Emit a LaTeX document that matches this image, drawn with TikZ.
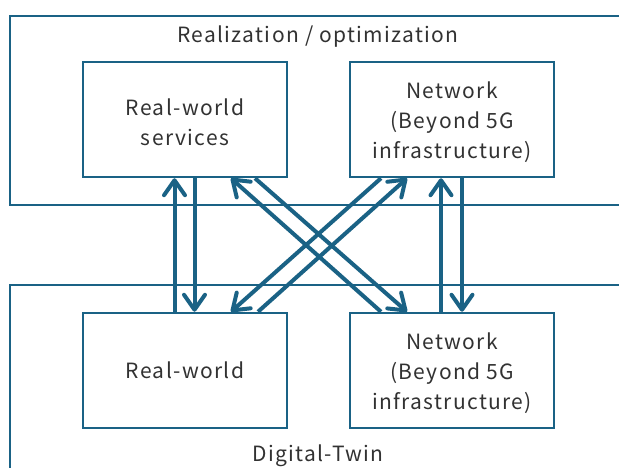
\documentclass[tikz,border=0pt]{standalone}
\usepackage{fontspec}
\setmainfont{Noto Sans CJK JP}[LetterSpace=6.5]
\usetikzlibrary{arrows.meta,calc}
\definecolor{teal1}{RGB}{26,98,133}
\definecolor{txt}{RGB}{50,50,50}
\newcommand\lowerln[1]{\raisebox{-2.5pt}[\height][\depth]{#1}}
\begin{document}
\begin{tikzpicture}[x=1pt,y=-1pt,
  frame/.style={draw=teal1,line width=2pt},
  box/.style={draw=teal1,line width=2.5pt,fill=white,minimum width=204pt,minimum height=115pt,inner sep=0pt,align=center,text=txt,font=\fontsize{21}{30}\selectfont},
  lbl/.style={text=txt,font=\fontsize{21}{30}\selectfont,inner sep=0pt,anchor=base},
  arr/.style={draw=teal1,line width=4pt,-{Straight Barb[length=15pt,width=21pt,line width=4pt,round]}}]
\useasboundingbox (0,0) rectangle (619,468);
\clip (0,0) rectangle (619,468);
\fill[white] (0,0) rectangle (619,468);
\draw[frame] (10,16) rectangle (650,205);
\draw[frame] (10,285) rectangle (650,500);
\node[lbl] (t1) at (318,42.5) {Realization / optimization};
\node[lbl] (t2) at (318,461) {Digital-Twin};
\node[box] (tl) at (185,119.5) {\lowerln{Real-world}\\\lowerln{services}};
\node[box] (tr) at (452,119.5) {\lowerln{Network}\\\lowerln{(Beyond 5G}\\\lowerln{infrastructure)}};
\node[box] (bl) at (185,370.5) {Real-world};
\node[box] (br) at (452,370.5) {\lowerln{Network}\\\lowerln{(Beyond 5G}\\\lowerln{infrastructure)}};
% vertical arrows
\draw[arr] ($(bl.north)+(-10.5,0)$) -- ($(tl.south)+(-10.5,0)$);
\draw[arr] ($(tl.south)+(9.5,0)$) -- ($(bl.north)+(9.5,0)$);
\draw[arr] ($(br.north)+(-11,0)$) -- ($(tr.south)+(-11,0)$);
\draw[arr] ($(tr.south)+(10,0)$) -- ($(br.north)+(10,0)$);
% diagonal arrows
\draw[arr] ($(br.north)+(-71,0)$) -- ($(tl.south)+(46,0)$);
\draw[arr] ($(tl.south)+(70,0)$) -- ($(br.north)+(-45,0)$);
\draw[arr] ($(tr.south)+(-71,0)$) -- ($(bl.north)+(46,0)$);
\draw[arr] ($(bl.north)+(73,0)$) -- ($(tr.south)+(-45,0)$);
\end{tikzpicture}
\end{document}
